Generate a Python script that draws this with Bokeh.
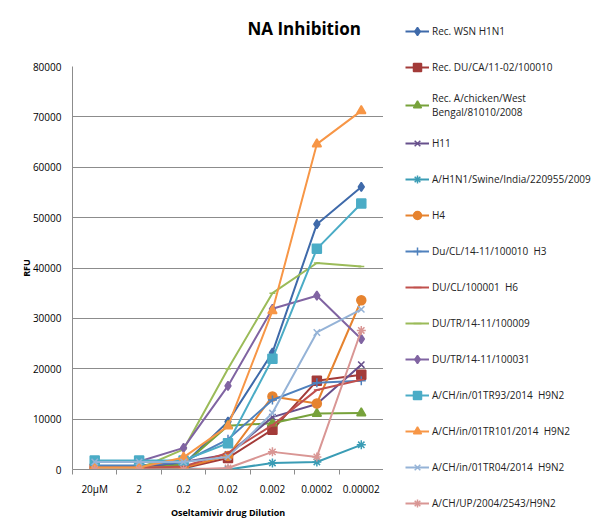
from bokeh.plotting import figure
from bokeh.layouts import row
from bokeh.models import Legend, LegendItem, FixedTicker, Range1d, NumeralTickFormatter
from bokeh.embed import file_html
from bokeh.resources import INLINE

categories = ["20µM", "2", "0.2", "0.02", "0.002", "0.0002", "0.00002"]
y_ticks = [0, 10000, 20000, 30000, 40000, 50000, 60000, 70000, 80000]

wsn = [600, 600, 1000, 9500, 23200, 48700, 56100]
du_ca = [200, 200, 250, 2300, 7900, 17600, 18800]
west_bengal = [200, 200, 1000, 8700, 9200, 11100, 11200]
h11 = [500, 500, 1500, 3000, 10400, 13000, 20800]
swine = [200, 200, 200, 0, 1300, 1500, 4900]
h4 = [400, 400, 400, 2700, 14500, 13100, 33600]
du_cl_h3 = [800, 800, 1500, 6000, 13800, 17200, 17600]
du_cl_h6 = [300, 300, 600, 3300, 8800, 15800, 17800]
du_tr_09 = [100, 200, 4000, 20000, 35000, 41000, 40300]
du_tr_31 = [1600, 1600, 4300, 16600, 31900, 34500, 25900]
tr93 = [1800, 1800, 1800, 5200, 22000, 43800, 52800]
tr101 = [400, 400, 2400, 8600, 31500, 64600, 71200]
tr04 = [1500, 1500, 1500, 2500, 11200, 27200, 31800]
up = [0, 0, 0, 300, 3500, 2500, 27600]

series = [
    ("Rec. WSN H1N1", wsn, "#3F6AAA", "diamond"),
    ("Rec. DU/CA/11-02/100010", du_ca, "#A33B39", "square"),
    ("Rec. A/chicken/West\nBengal/81010/2008", west_bengal, "#77A23B", "triangle"),
    ("H11", h11, "#67508C", "x"),
    ("A/H1N1/Swine/India/220955/2009", swine, "#3A9CB5", "asterisk"),
    ("H4", h4, "#E6832F", "circle"),
    ("Du/CL/14-11/100010  H3", du_cl_h3, "#4F81BD", "cross"),
    ("DU/CL/100001  H6", du_cl_h6, "#C0504D", "dash"),
    ("DU/TR/14-11/100009", du_tr_09, "#9BBB59", "dash"),
    ("DU/TR/14-11/100031", du_tr_31, "#8064A2", "diamond"),
    ("A/CH/in/01TR93/2014  H9N2", tr93, "#4BACC6", "square"),
    ("A/CH/in/01TR101/2014  H9N2", tr101, "#F79646", "triangle"),
    ("A/CH/in/01TR04/2014  H9N2", tr04, "#95B3D7", "x"),
    ("A/CH/UP/2004/2543/H9N2", up, "#D99694", "asterisk"),
]

xpos = list(range(1, len(categories) + 1))
FONT = "Open Sans"
GRAY = "#8C8C8C"

p = figure(width=383, height=524, output_backend="svg", toolbar_location=None,
           x_range=Range1d(0.5, len(categories) + 0.5), y_range=Range1d(0, 80000),
           min_border_left=72, min_border_right=0, min_border_top=66, min_border_bottom=55)
p.outline_line_color = None
p.background_fill_color = "white"

p.title.text = "NA Inhibition\n"
p.title.align = "left"
p.title.offset = 175
p.title.text_font = FONT
p.title.text_font_size = "17px"
p.title.text_font_style = "bold"
p.title.text_color = "#000000"
p.title.standoff = 8


def draw(fig, name, vals, color, marker):
    r1 = fig.line(xpos, vals, line_color=color, line_width=2)
    size = 6 if marker == "dash" else 9
    r2 = fig.scatter(xpos, vals, marker=marker, size=size, fill_color=color,
                     line_color=color, line_width=1.5)
    return [r1, r2]


for name, vals, color, marker in series:
    draw(p, name, vals, color, marker)

# Legend figure: same series drawn on a side figure whose visible part is only the legend
lg = figure(width=210, height=524, output_backend="svg", toolbar_location=None,
            title_location=None,
            x_range=Range1d(100, 101), y_range=Range1d(100, 101),
            min_border_left=0, min_border_right=0, min_border_top=0, min_border_bottom=0)
lg.axis.visible = False
lg.grid.visible = False
lg.outline_line_color = None
items = []
for name, vals, color, marker in series:
    items.append(LegendItem(label=name, renderers=draw(lg, name, vals, color, marker)))

legend = Legend(items=items, location=(22, -46), orientation="vertical",
                padding=0, margin=0, spacing=12, label_height=24, glyph_height=20,
                glyph_width=24, label_standoff=3, border_line_color=None,
                background_fill_alpha=0, label_text_font=FONT,
                label_text_font_size="10px", label_text_color="#222222")
lg.add_layout(legend, "left")

p.yaxis.ticker = FixedTicker(ticks=y_ticks)
p.yaxis.formatter = NumeralTickFormatter(format="0")
p.yaxis.axis_label = "RFU"
p.yaxis.major_tick_out = 5
p.yaxis.major_tick_in = 0
p.yaxis.minor_tick_line_color = None
p.yaxis.major_label_standoff = 6
p.yaxis.axis_label_standoff = -3

p.xaxis.ticker = FixedTicker(ticks=xpos, minor_ticks=[i + 0.5 for i in range(len(categories) + 1)])
p.xaxis.major_label_overrides = {i + 1: c for i, c in enumerate(categories)}
p.xaxis.major_tick_out = 5
p.xaxis.major_tick_in = 0
p.xaxis.minor_tick_out = 5
p.xaxis.minor_tick_in = 0
p.xaxis.minor_tick_line_color = GRAY
p.xaxis.major_label_standoff = 7
p.xaxis.axis_label = "Oseltamivir drug Dilution"
p.xaxis.axis_label_standoff = 7

for ax in (p.xaxis, p.yaxis):
    ax.axis_line_color = GRAY
    ax.major_tick_line_color = GRAY if ax is p.yaxis else None
    ax.major_label_text_font = FONT
    ax.major_label_text_font_size = "10px"
    ax.major_label_text_color = "#000000"
    ax.axis_label_text_font = FONT
    ax.axis_label_text_font_size = "9px"
    ax.axis_label_text_font_style = "bold"
    ax.axis_label_text_color = "#000000"

p.xgrid.visible = False
p.ygrid.grid_line_color = GRAY
p.ygrid.grid_line_width = 1

open("out.html", "w").write(file_html(row(p, lg), INLINE))
